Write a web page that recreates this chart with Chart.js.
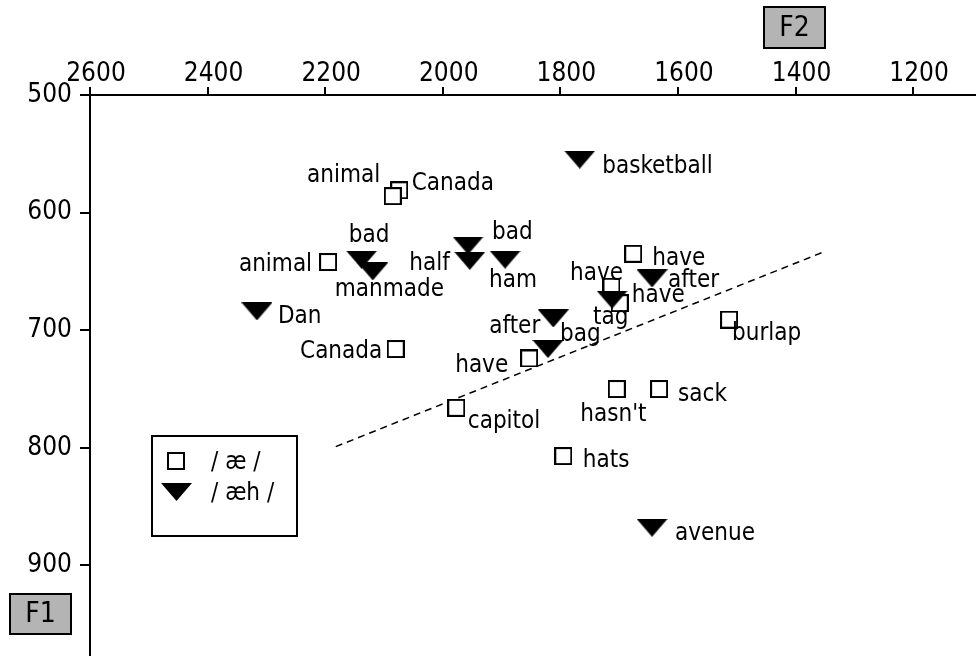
<!DOCTYPE html>
<html>
<head>
<meta charset="utf-8">
<script src="https://cdn.jsdelivr.net/npm/chart.js@4.4.1/dist/chart.umd.min.js"></script>
<style>
  body { margin: 0; background: #fff; }
  #wrap { width: 976px; height: 656px; }
</style>
</head>
<body>
<div id="wrap"><canvas id="vowel-chart"></canvas></div>
<script>
// tick labels
var xTicks = [2600, 2400, 2200, 2000, 1800, 1600, 1400, 1200];
var yTicks = [500, 600, 700, 800, 900];

// /ae/ tokens
var aeWords = ["Canada", "animal", "animal", "Canada", "have", "have", "have", "burlap", "have", "capitol", "hasn't", "sack", "hats"];
var aeF2 = [2074, 2085, 2195, 2080, 1676, 1713, 1699, 1513, 1853, 1977, 1704, 1632, 1795];
var aeF1 = [581, 586, 642, 716, 635, 663, 677, 691, 724, 766, 750, 750, 807];

// /aeh/ tokens
var aehWords = ["basketball", "bad", "manmade", "bad", "half", "ham", "Dan", "after", "tag", "after", "bag", "avenue"];
var aehF2 = [1767, 2138, 2119, 1957, 1954, 1894, 2316, 1644, 1712, 1812, 1821, 1644];
var aehF1 = [555, 640, 650, 628, 641, 640, 684, 656, 674, 690, 716, 868];

// dividing line
var fitF2 = [2182, 1355];
var fitF1 = [799, 634];

// where each word sits next to its marker: [dx, dy, align]
var aeLabelPos = [[12.5, 0, "left"], [-12.5, -14.5, "right"], [-16, 8.5, "right"], [-13.5, 9, "right"],
  [19, 11, "left"], [-41.5, -7, "left"], [12, -1.5, "left"], [3, 20.5, "left"], [-21, 13.5, "right"],
  [11.5, 20, "left"], [-36.5, 31.5, "left"], [19, 11.5, "left"], [19.5, 11, "left"]];
var aehLabelPos = [[22.5, 13, "left"], [7.5, -17.5, "center"], [-38, 25, "left"], [24, -7, "left"],
  [-20, 9, "right"], [-16, 27, "left"], [21, 12, "left"], [16, 8.5, "left"], [-19, 24.5, "left"],
  [-13, 14.5, "right"], [12, -8.5, "left"], [23, 12.5, "left"]];

var FONT = "'DejaVu Sans Condensed', 'DejaVu Sans', sans-serif";

function makeSquare() {
  var c = document.createElement("canvas");
  c.width = 18; c.height = 18;
  var g = c.getContext("2d");
  g.fillStyle = "#fff";
  g.fillRect(0, 0, 18, 18);
  g.strokeStyle = "#000";
  g.lineWidth = 2;
  g.strokeRect(1, 1, 16, 16);
  return c;
}
function makeTriangle() {
  var c = document.createElement("canvas");
  c.width = 31; c.height = 18;
  var g = c.getContext("2d");
  g.fillStyle = "#000";
  g.beginPath();
  g.moveTo(0, 0); g.lineTo(31, 0); g.lineTo(15.5, 18);
  g.closePath();
  g.fill();
  return c;
}
var squareImg = makeSquare();
var triImg = makeTriangle();

function pts(xs, ys) {
  return xs.map(function(x, i) { return {x: x, y: ys[i]}; });
}

var labelPlugin = {
  id: "wordLabels",
  afterDatasetsDraw: function(chart) {
    var ctx = chart.ctx;
    ctx.save();
    ctx.fillStyle = "#000";
    ctx.font = "24px " + FONT;
    ctx.textBaseline = "alphabetic";
    [[0, aeWords, aeLabelPos], [1, aehWords, aehLabelPos]].forEach(function(set) {
      var meta = chart.getDatasetMeta(set[0]);
      meta.data.forEach(function(pt, i) {
        var p = set[2][i];
        ctx.textAlign = p[2];
        ctx.fillText(set[1][i], pt.x + p[0], pt.y + p[1]);
      });
    });
    ctx.restore();
  },
  afterDraw: function(chart) {
    var ctx = chart.ctx;
    ctx.save();
    function box(txt, x, y, w, h) {
      ctx.fillStyle = "#b4b4b4";
      ctx.fillRect(x, y, w, h);
      ctx.strokeStyle = "#000";
      ctx.lineWidth = 2;
      ctx.strokeRect(x, y, w, h);
      ctx.fillStyle = "#000";
      ctx.font = "28px " + FONT;
      ctx.textAlign = "center";
      ctx.textBaseline = "middle";
      ctx.fillText(txt, x + w / 2, y + h / 2 + 1);
    }
    box("F2", 764, 7, 61, 41);
    box("F1", 10, 594, 61, 40);

    // legend
    ctx.fillStyle = "#fff";
    ctx.fillRect(152, 436, 145, 100);
    ctx.strokeStyle = "#000";
    ctx.lineWidth = 2;
    ctx.strokeRect(152, 436, 145, 100);
    ctx.drawImage(squareImg, 167, 452);
    ctx.drawImage(triImg, 161, 483);
    ctx.fillStyle = "#000";
    ctx.font = "24px " + FONT;
    ctx.textAlign = "left";
    ctx.textBaseline = "alphabetic";
    ctx.fillText(chart.data.datasets[0].label, 211, 469);
    ctx.fillText(chart.data.datasets[1].label, 211, 500);
    ctx.restore();
  }
};

var tickFont = { family: FONT, size: 26 };
function plain(v) { return String(v); }

new Chart(document.getElementById("vowel-chart"), {
  type: "scatter",
  data: {
    datasets: [
      { label: "/ æ /", data: pts(aeF2, aeF1), pointStyle: squareImg, pointRadius: 9, order: 2 },
      { label: "/ æh /", data: pts(aehF2, aehF1), pointStyle: triImg, pointRadius: 9, order: 1 },
      { label: "fit", data: pts(fitF2, fitF1), showLine: true, borderColor: "#000", borderWidth: 1.5,
        borderDash: [7, 5], pointRadius: 0, fill: false, order: 3 }
    ]
  },
  options: {
    responsive: true,
    maintainAspectRatio: false,
    animation: false,
    layout: { padding: 0, autoPadding: false },
    plugins: { legend: { display: false }, tooltip: { enabled: false } },
    scales: {
      x: {
        type: "linear", position: "top", reverse: true, min: 1093, max: 2600,
        afterBuildTicks: function(s) { s.ticks = xTicks.map(function(v) { return {value: v}; }); },
        afterFit: function(s) { s.height = 95; s.paddingLeft = 0; s.paddingRight = 0; },
        grid: { drawOnChartArea: false, tickLength: 8, color: "#000", lineWidth: 2 },
        border: { color: "#000", width: 2 },
        ticks: { font: tickFont, color: "#000", padding: -3, labelOffset: 6, maxRotation: 0,
                 autoSkip: false, callback: plain }
      },
      y: {
        type: "linear", reverse: true, min: 500, max: 977,
        afterBuildTicks: function(s) { s.ticks = yTicks.map(function(v) { return {value: v}; }); },
        afterFit: function(s) { s.width = 90; s.paddingTop = 0; s.paddingBottom = 0; },
        grid: { drawOnChartArea: false, tickLength: 10, color: "#000", lineWidth: 2 },
        border: { color: "#000", width: 2 },
        ticks: { font: tickFont, color: "#000", padding: 8, autoSkip: false, callback: plain }
      }
    }
  },
  plugins: [labelPlugin]
});
</script>
</body>
</html>
